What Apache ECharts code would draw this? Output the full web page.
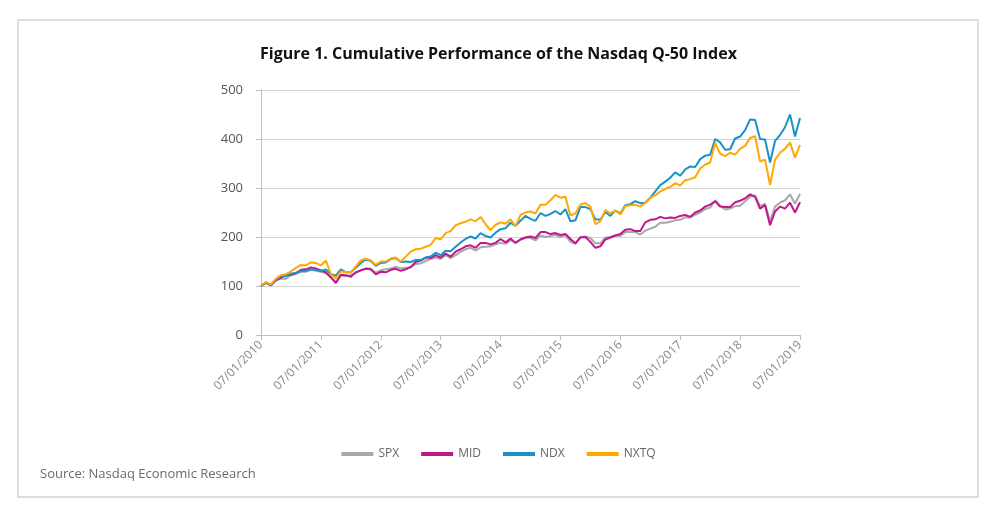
<!DOCTYPE html>
<html>
<head>
<meta charset="utf-8">
<script src="https://cdn.jsdelivr.net/npm/echarts@6/dist/echarts.min.js"></script>
<style>
    html, body{ margin: 0; padding: 0; background: #fff;}
    #chart1{ width: 997px; height: 516px;}
</style>
</head>
<body>
<div id="chart1"></div>
<script>
    // monthly points, 07/01/2010 .. 07/01/2019 (values rebased to 100)
    var months = [];
    for (var y = 2010; y <= 2019; y++) {
        for (var m = 1; m <= 12; m++) {
            if ((y === 2010 && m < 7) || (y === 2019 && m > 7)) continue;
            months.push((m < 10 ? '0' + m : '' + m) + '/01/' + y);
        }
    }

    var spx = [
        100, 106, 102, 111, 115, 115,
        122, 125, 129, 129, 133, 131, 129, 126, 117, 108, 121, 120,
        122, 127, 132, 136, 135, 127, 132, 134, 136, 139, 136, 137,
        138, 145, 146, 151, 155, 158, 155, 163, 157, 163, 170, 175,
        178, 172, 179, 180, 181, 185, 188, 186, 193, 189, 195, 199,
        198, 193, 203, 200, 202, 204, 200, 204, 190, 186, 200, 201,
        198, 187, 187, 199, 200, 203, 202, 210, 210, 210, 205, 213,
        217, 221, 229, 229, 231, 234, 235, 240, 240, 245, 250, 257,
        260, 275, 264, 256, 258, 263, 264, 273, 282, 285, 263, 268,
        232, 262, 270, 275, 287, 268, 288
    ];
    var mid = [
        100, 107, 101, 112, 117, 122,
        123, 126, 133, 134, 138, 136, 132, 128, 118, 106, 123, 122,
        119, 128, 132, 135, 134, 124, 129, 128, 133, 135, 131, 134,
        139, 149, 152, 158, 157, 163, 158, 166, 160, 170, 175, 181,
        183, 178, 188, 188, 185, 188, 196, 189, 197, 188, 195, 199,
        201, 198, 210, 210, 206, 208, 204, 206, 196, 187, 199, 200,
        190, 178, 181, 195, 199, 203, 206, 215, 216, 212, 212, 230,
        235, 236, 241, 238, 240, 239, 243, 245, 241, 250, 254, 262,
        266, 273, 262, 261, 261, 271, 274, 279, 287, 282, 258, 265,
        224, 252, 262, 258, 270, 250, 271
    ];
    var ndx = [
        100, 107, 102, 114, 121, 120,
        125, 127, 130, 131, 134, 133, 130, 134, 124, 121, 134, 128,
        128, 137, 147, 154, 151, 141, 147, 148, 155, 157, 149, 150,
        149, 153, 153, 158, 160, 168, 163, 172, 171, 180, 189, 196,
        201, 197, 208, 202, 199, 209, 216, 218, 229, 223, 233, 243,
        237, 233, 249, 243, 247, 253, 246, 257, 232, 234, 261, 261,
        257, 236, 235, 251, 243, 254, 248, 265, 267, 273, 269, 270,
        280, 293, 306, 313, 321, 332, 325, 338, 344, 343, 359, 366,
        368, 400, 393, 378, 379, 401, 405, 418, 440, 439, 400, 399,
        352, 396, 408, 424, 450, 405, 443
    ];
    var nxtq = [
        100, 108, 103, 115, 122, 124,
        130, 137, 143, 142, 148, 147, 142, 152, 124, 116, 130, 128,
        128, 140, 152, 156, 152, 143, 150, 150, 156, 158, 150, 160,
        170, 175, 176, 180, 184, 198, 195, 208, 212, 224, 228, 231,
        236, 232, 241, 226, 214, 225, 230, 227, 236, 222, 245, 250,
        252, 248, 266, 266, 275, 286, 280, 282, 244, 248, 266, 269,
        262, 226, 232, 255, 248, 254, 246, 263, 265, 266, 262, 270,
        280, 285, 293, 298, 302, 310, 305, 316, 318, 322, 340, 348,
        352, 392, 370, 365, 372, 368, 380, 386, 402, 406, 354, 358,
        306, 358, 372, 380, 393, 362, 388
    ];

    var seriesNames = ['SPX', 'MID', 'NDX', 'NXTQ'];
    var seriesColors = ['#a8a8a8', '#c3168e', '#1a92c6', '#ffa800'];
    var seriesData = [spx, mid, ndx, nxtq];

    var chart = echarts.init(document.getElementById('chart1'));
    chart.setOption({
        animation: false,
        backgroundColor: '#fff',
        textStyle: {fontFamily: 'Open Sans'},
        title: [
            {text: 'Figure 1. Cumulative Performance of the Nasdaq Q-50 Index', left: 'center', top: 41,
                textStyle: {fontSize: 16, fontWeight: 'bold', color: '#111', fontFamily: 'Open Sans'}},
            {text: 'Source: Nasdaq Economic Research', left: 35, top: 463,
                textStyle: {fontSize: 13, fontWeight: 'normal', color: '#6a6a6a', fontFamily: 'Open Sans'}}
        ],
        graphic: [{
            type: 'rect', silent: true,
            shape: {x: 18, y: 20, width: 960, height: 477},
            style: {fill: 'none', stroke: '#dedede', lineWidth: 2}
        }],
        legend: {
            top: 443, left: 'center', itemWidth: 32, itemHeight: 4, itemGap: 22,
            icon: 'rect',
            textStyle: {fontSize: 12, color: '#666'},
            data: seriesNames
        },
        grid: {left: 261, right: 197, top: 90, bottom: 181},
        xAxis: {
            type: 'category',
            boundaryGap: false,
            data: months,
            axisLine: {lineStyle: {color: '#bfbfbf'}},
            axisTick: {interval: 11, length: 5, lineStyle: {color: '#bfbfbf'}},
            axisLabel: {interval: 11, rotate: 45, color: '#888', fontSize: 12, margin: 8}
        },
        yAxis: {
            type: 'value', min: 0, max: 500, interval: 100,
            axisLine: {show: true, lineStyle: {color: '#bfbfbf'}},
            axisTick: {show: true, length: 5, lineStyle: {color: '#bfbfbf'}},
            axisLabel: {color: '#555', fontSize: 13, margin: 18},
            splitLine: {lineStyle: {color: '#d4d4d4'}}
        },
        series: seriesNames.map(function (name, i) {
            return {
                name: name, type: 'line', data: seriesData[i],
                showSymbol: false, symbol: 'none',
                lineStyle: {width: 2, color: seriesColors[i]},
                itemStyle: {color: seriesColors[i]}
            };
        })
    });
</script>
</body>
</html>
